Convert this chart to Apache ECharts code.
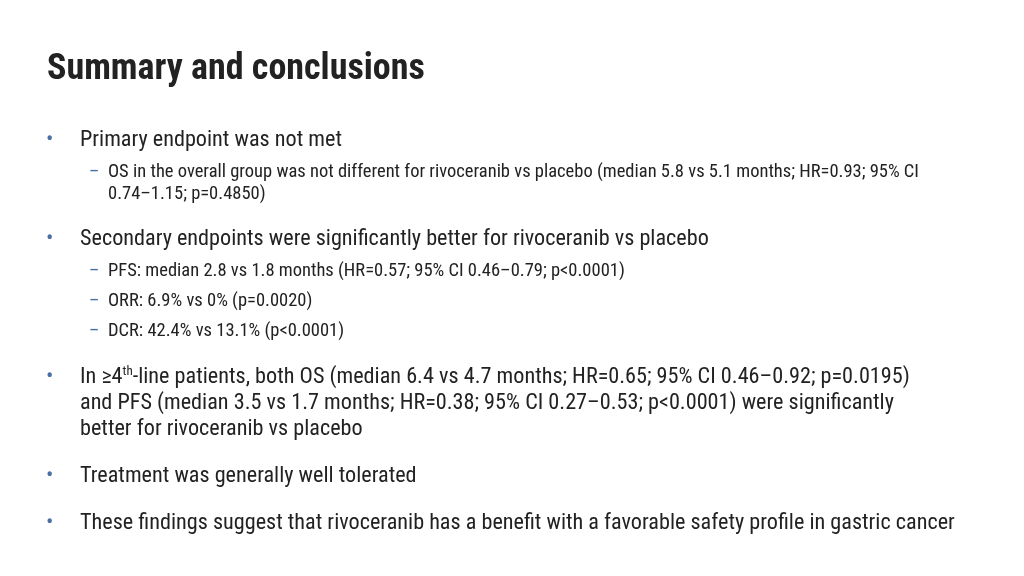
<!DOCTYPE html>
<html><head><meta charset="utf-8">
<script src="https://cdn.jsdelivr.net/npm/echarts@6/dist/echarts.min.js"></script>
<style>html,body{margin:0;padding:0;background:#fff}#c{width:1024px;height:576px}</style>
</head><body><div id="c"></div>
<script>
const title = "Summary and conclusions";
// level 1 = bullet, 2 = sub-bullet, 0 = continuation line
const lineLevels = [1,2,0,1,2,2,2,1,0,0,1,1];
const lineY = [140,172,194,239,271,301,331,377,403,429,476,523];
const lineTexts = [
 "Primary endpoint was not met",
 "OS in the overall group was not different for rivoceranib vs placebo (median 5.8 vs 5.1 months; HR=0.93; 95% CI",
 "0.74\u20131.15; p=0.4850)",
 "Secondary endpoints were significantly better for rivoceranib vs placebo",
 "PFS: median 2.8 vs 1.8 months (HR=0.57; 95% CI 0.46\u20130.79; p<0.0001)",
 "ORR: 6.9% vs 0% (p=0.0020)",
 "DCR: 42.4% vs 13.1% (p<0.0001)",
 "In \u22654{sup|th}-line patients, both OS (median 6.4 vs 4.7 months; HR=0.65; 95% CI 0.46\u20130.92; p=0.0195)",
 "and PFS (median 3.5 vs 1.7 months; HR=0.38; 95% CI 0.27\u20130.53; p<0.0001) were significantly",
 "better for rivoceranib vs placebo",
 "Treatment was generally well tolerated",
 "These findings suggest that rivoceranib has a benefit with a favorable safety profile in gastric cancer"
];
const font = "'Liberation Sans Narrow','Arial Narrow','Roboto Condensed',sans-serif";
const g = [{type:'text',x:47,y:70,style:{text:title,font:"bold 36px "+font,fill:'#222',textVerticalAlign:'middle'}}];
let last = 1;
lineTexts.forEach((t,i)=>{
  const lv = lineLevels[i]; if (lv) last = lv;
  const eff = lv || last;
  const x = eff===1 ? 80 : 108;
  const size = eff===1 ? 22.2 : 18.5;
  if (lv===1) g.push({type:'text',x:46,y:lineY[i],style:{text:'\u2022',font:"22px "+font,fill:'#4a6fa5',textVerticalAlign:'middle'}});
  if (lv===2) g.push({type:'text',x:89,y:lineY[i],style:{text:'\u2013',font:"18px "+font,fill:'#4a6fa5',textVerticalAlign:'middle'}});
  g.push({type:'text',x:x,y:lineY[i],style:{text:t,font:size+"px "+font,fill:'#222',textVerticalAlign:'middle',
    rich:{sup:{fontSize:13,fontFamily:font,fill:'#222',verticalAlign:'top',padding:[0,0,10,0]}}}});
});
const chart = echarts.init(document.getElementById('c'));
chart.setOption({graphic:g});
</script></body></html>
